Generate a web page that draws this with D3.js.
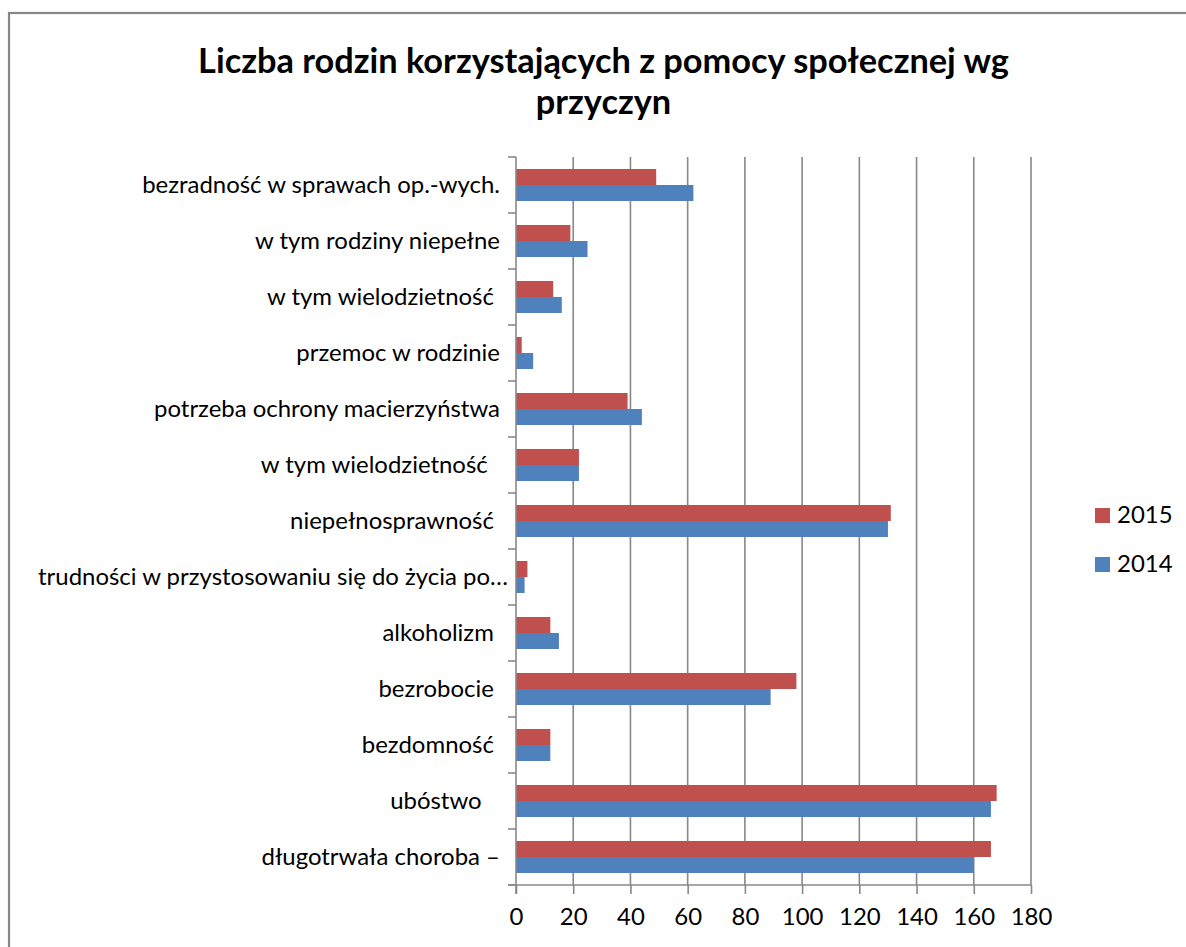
<!DOCTYPE html>
<html><head><meta charset="utf-8">
<script src="https://cdn.jsdelivr.net/npm/d3@7"></script>
<style>
body{margin:0;background:#fff}
text{font-family:Lato,"Noto Sans",sans-serif;fill:#000}
</style></head>
<body><svg id="c" width="1186" height="947"></svg>
<script>
const titleLines = ["Liczba rodzin korzystających z pomocy społecznej wg", "przyczyn"];
const categories = [
  "bezradność w sprawach op.-wych.",
  "w tym rodziny niepełne",
  "w tym wielodzietność ",
  "przemoc w rodzinie",
  "potrzeba ochrony macierzyństwa",
  "w tym wielodzietność  ",
  "niepełnosprawność ",
  "trudności w przystosowaniu się do życia po…",
  "alkoholizm ",
  "bezrobocie ",
  "bezdomność ",
  "ubóstwo   ",
  "długotrwała choroba –"
];
const values2015 = [49, 19, 13, 2, 39, 22, 131, 4, 12, 98, 12, 168, 166];
const values2014 = [62, 25, 16, 6, 44, 22, 130, 3, 15, 89, 12, 166, 160];
const seriesNames = ["2015", "2014"];
const seriesColors = ["#C0504D", "#4F81BD"];
const xTicks = [0, 20, 40, 60, 80, 100, 120, 140, 160, 180];

const svg = d3.select("#c");
const W = 1186, H = 947;
const plot = {left: 516, right: 1031, top: 157, bottom: 885};
const gridColor = "#888888";

// outer border
svg.append("rect").attr("x", 9).attr("y", 13).attr("width", W).attr("height", H)
  .attr("fill", "#fff").attr("stroke", "#868686").attr("stroke-width", 2.2);

// calibrate font sizes to match the reference text widths
function calib(str, weight, target) {
  const t = svg.append("text").attr("font-size", 20).attr("font-weight", weight).style("white-space","pre").text(str);
  const w = t.node().getComputedTextLength();
  t.remove();
  return 20 * target / w;
}
const labelSize = calib("bezradność w sprawach op.-wych.", "normal", 358);
const titleSize = calib(titleLines[0], "bold", 811);

// title
svg.append("g").selectAll("text").data(titleLines).join("text")
  .attr("x", 603.5).attr("y", (d, i) => 73 + i * 41)
  .attr("text-anchor", "middle").attr("font-weight", "bold").attr("font-size", titleSize)
  .text(d => d);

const x = d3.scaleLinear().domain([0, 180]).range([plot.left, plot.right]);
const y = d3.scaleBand().domain(categories).range([plot.top, plot.bottom]).padding(0);
const ys = d3.scaleBand().domain(seriesNames).range([0, y.bandwidth()]).paddingInner(0).paddingOuter(0.75);

// gridlines
svg.append("g").selectAll("line").data(xTicks.filter(d => d > 0)).join("line")
  .attr("x1", d => x(d)).attr("x2", d => x(d)).attr("y1", plot.top).attr("y2", plot.bottom)
  .attr("stroke", gridColor).attr("stroke-width", 1.6);

// bars
const rows = categories.map((c, i) => ({c, vals: [values2015[i], values2014[i]]}));
const g = svg.append("g");
rows.forEach(r => {
  r.vals.forEach((v, j) => {
    g.append("rect")
      .attr("x", x(0)).attr("y", y(r.c) + ys(seriesNames[j]))
      .attr("width", x(v) - x(0)).attr("height", ys.bandwidth())
      .attr("fill", seriesColors[j]);
  });
});

// x axis
const xAxis = d3.axisBottom(x).tickValues(xTicks).tickSize(9).tickPadding(14).tickFormat(d3.format("d"));
const xa = svg.append("g").attr("transform", `translate(0,${plot.bottom})`).call(xAxis);
xa.select(".domain").remove();
xa.selectAll(".tick line").attr("stroke", gridColor).attr("stroke-width", 1.6);
xa.selectAll(".tick text").attr("font-size", labelSize).attr("font-family", "Lato, sans-serif").attr("fill", "#000");
svg.append("line").attr("x1", plot.left - 8).attr("x2", plot.right).attr("y1", plot.bottom).attr("y2", plot.bottom)
  .attr("stroke", gridColor).attr("stroke-width", 1.6);

// y axis line & category ticks
svg.append("line").attr("x1", plot.left).attr("x2", plot.left).attr("y1", plot.top).attr("y2", plot.bottom + 9)
  .attr("stroke", gridColor).attr("stroke-width", 1.6);
const bounds = categories.map(c => y(c)).concat([plot.bottom]);
svg.append("g").selectAll("line").data(bounds).join("line")
  .attr("x1", plot.left - 8).attr("x2", plot.left).attr("y1", d => d).attr("y2", d => d)
  .attr("stroke", gridColor).attr("stroke-width", 1.6);

// category labels (truncated label sits a little closer to the axis, as in the reference)
svg.append("g").selectAll("text").data(categories).join("text")
  .attr("x", d => d.endsWith("…") ? 508 : 500)
  .attr("y", d => y(d) + y.bandwidth() / 2 + 0.35 * labelSize)
  .attr("text-anchor", "end").attr("font-size", labelSize).style("white-space", "pre")
  .text(d => d);

// legend
const lg = svg.append("g");
seriesNames.forEach((s, i) => {
  const ly = 508 + i * 49;
  lg.append("rect").attr("x", 1095).attr("y", ly).attr("width", 15).attr("height", 15).attr("fill", seriesColors[i]);
  lg.append("text").attr("x", 1117).attr("y", ly + 15).attr("font-size", labelSize).text(s);
});
</script>
</body></html>
